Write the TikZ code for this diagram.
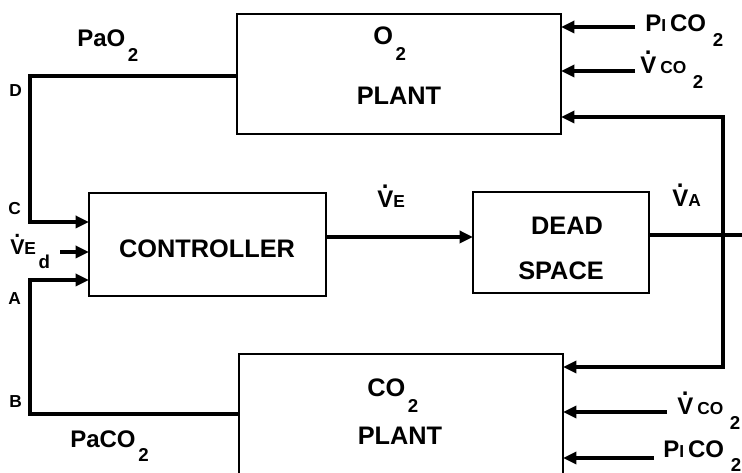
\documentclass[tikz,border=0pt]{standalone}
\usepackage{fontspec}
\setmainfont{Liberation Sans}
\usetikzlibrary{arrows.meta,positioning}

\newcommand{\vdt}{\ooalign{V\cr\hidewidth\smash{\raisebox{0.8em}{.}}\hidewidth\cr}}
\newcommand{\sml}[1]{{\fontsize{13}{13}\selectfont #1}}
\newcommand{\dn}[1]{\kern2pt\smash{\raisebox{-0.62em}{\fontsize{14}{14}\selectfont #1}}}

\begin{document}
\begin{tikzpicture}[x=0.75pt, y=-0.75pt, >={Triangle[length=10pt,width=9pt]},
    block/.style={rectangle, draw, line width=1.1pt, inner sep=0pt, outer sep=0pt},
    txt/.style={font=\fontsize{19}{22}\selectfont\bfseries, inner sep=0pt},
    lbl/.style={font=\fontsize{18}{20}\selectfont\bfseries, inner sep=0pt, anchor=base west},
    tag/.style={font=\fontsize{13}{14}\selectfont\bfseries, inner sep=0pt, anchor=base west},
    flow/.style={line width=3.5pt},
    arrow/.style={flow, ->}]

    \clip (0,0) rectangle (742,473);

    % blocks
    \node[block, minimum width=243pt, minimum height=90pt] (o2) at (399,74) {};
    \node[block, minimum width=177.75pt, minimum height=77.25pt] (ctrl) at (207.5,244.5) {};
    \node[block, minimum width=132pt, minimum height=75.75pt] (dead) at (561,242.5) {};
    \node[block, minimum width=243pt, minimum height=105pt] (co2) at (401,424) {};

    \node[txt, anchor=base west] (o2name) at (373,45) {O\dn{2}};
    \node[txt, anchor=base] (o2plant) at (399,105) {PLANT};
    \node[txt, anchor=base] (ctrlname) at (207,258) {CONTROLLER};
    \node[txt, anchor=base] (deadname) at (567,235) {DEAD};
    \node[txt, anchor=base] (spacename) at (561,280) {SPACE};
    \node[txt, anchor=base west] (co2name) at (367,397) {CO\dn{2}};
    \node[txt, anchor=base] (co2plant) at (400,445) {PLANT};

    % feedback loops on the left
    \coordinate (cornerD) at (30,76);
    \coordinate (cornerC) at (30,222);
    \coordinate (cornerA) at (30,280);
    \coordinate (cornerB) at (30,414);
    \coordinate (vedin) at (60,252);
    \draw[arrow] (o2.west |- cornerD) -- (cornerD) -- (cornerC) -- (cornerC -| ctrl.west);
    \draw[arrow] (co2.west |- cornerB) -- (cornerB) -- (cornerA) -- (cornerA -| ctrl.west);
    \draw[arrow] (vedin) -- (vedin -| ctrl.west);

    \node[lbl] (pao2) at (77,47) {PaO\dn{2}};
    \node[lbl] (paco2) at (70,447) {PaCO\dn{2}};
    \node[tag] (tagD) at (9,97) {D};
    \node[tag] (tagC) at (8,215) {C};
    \node[tag] (tagA) at (8,305) {A};
    \node[tag] (tagB) at (9,408) {B};
    \node[lbl, font=\fontsize{16}{18}\selectfont\bfseries] (ved) at (10,255) {\vdt\sml{E}\dn{d}};

    % ventilation
    \coordinate (ve) at (400,237);
    \coordinate (vaout) at (750,235);
    \coordinate (looptop) at (723,117);
    \coordinate (loopbot) at (723,367);
    \draw[arrow] (ve -| ctrl.east) -- (ve -| dead.west);
    \draw[flow] (vaout -| dead.east) -- (vaout);
    \draw[flow, <->] (looptop -| o2.east) -- (looptop) -- (loopbot) -- (loopbot -| co2.east);

    \node[lbl] (velbl) at (377,208) {\vdt\sml{E}};
    \node[lbl] (valbl) at (672,207) {\vdt\sml{A}};

    % inputs on the right
    \coordinate (pitop) at (635,27);
    \coordinate (vctop) at (635,71);
    \coordinate (vcbot) at (667,412);
    \coordinate (pibot) at (654,458);
    \draw[arrow] (pitop) -- (pitop -| o2.east);
    \draw[arrow] (vctop) -- (vctop -| o2.east);
    \draw[arrow] (vcbot) -- (vcbot -| co2.east);
    \draw[arrow] (pibot) -- (pibot -| co2.east);

    \node[lbl] (picotop) at (645,32) {P\sml{I}\,CO\,\dn{2}};
    \node[lbl] (vcotop) at (640,74) {\vdt\,\sml{CO}\,\dn{2}};
    \node[lbl] (vcobot) at (677,415) {\vdt\,\sml{CO}\,\dn{2}};
    \node[lbl] (picobot) at (663,457) {P\sml{I}\,CO\,\dn{2}};

\end{tikzpicture}
\end{document}
